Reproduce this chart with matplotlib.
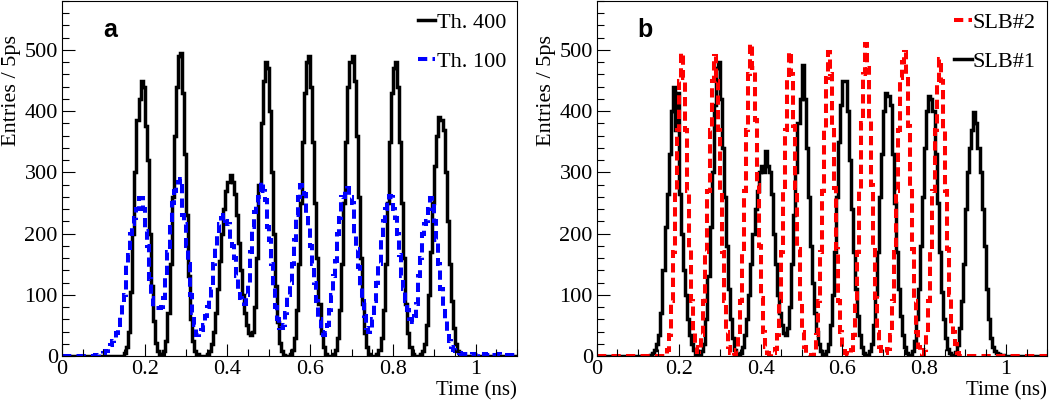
import numpy as np
import matplotlib.pyplot as plt
from matplotlib.ticker import MultipleLocator, FuncFormatter

# 5 ps bins from 0 to 1.1 ns
bin_width = 0.005
n_bins = 220

# panel a: threshold 400 (black), first bin index 30
th400_start = 30
th400_counts = [
    5, 15, 40, 105, 200, 300, 385, 420, 450, 440, 375, 320, 200, 115, 58, 22, 8, 3, 2,
    8, 25, 70, 150, 260, 360, 440, 490, 495, 430, 330, 230, 130, 60, 25, 8, 3, 0, 0, 0, 0,
    3, 8, 20, 40, 70, 110, 155, 200, 240, 270, 285, 295, 285, 265, 230, 185, 140, 100, 70, 50, 38, 35, 40,
    80, 160, 280, 380, 450, 480, 470, 400, 300, 200, 115, 55, 22, 8, 2, 0, 0,
    3, 10, 30, 75, 150, 250, 350, 430, 480, 490, 440, 350, 250, 160, 85, 38, 14, 4, 0, 0, 0,
    3, 10, 30, 75, 150, 250, 350, 440, 480, 490, 450, 360, 260, 160, 85, 38, 14, 4, 0, 0, 0,
    3, 10, 30, 75, 150, 250, 350, 430, 470, 480, 440, 350, 250, 160, 85, 38, 14, 4, 0, 0, 0,
    3, 8, 20, 50, 100, 170, 250, 310, 360, 390, 385, 370, 300, 220, 150, 90, 45, 20, 8, 3, 1,
]

# panel a: threshold 100 (blue), first bin index 16
th100_start = 16
th100_counts = [
    1, 2, 3, 3, 5, 8, 12, 18, 25, 30, 38, 50, 65, 85, 100, 150, 165, 200, 215, 225,
    240, 258, 258, 240, 205, 180, 125, 95, 80, 78, 78, 78, 80, 95, 130, 170, 210, 250, 270, 280,
    285, 290, 230, 215, 180, 150, 100, 70, 50, 35, 38, 42, 50, 65, 80, 95, 110, 150, 180, 200,
    215, 225, 230, 220, 215, 190, 180, 160, 130, 110, 95, 88, 85, 100, 120, 170, 210, 235, 250, 260,
    285, 270, 255, 210, 190, 150, 115, 80, 60, 45, 45, 50, 70, 100, 120, 150, 190, 230, 260, 280,
    275, 265, 230, 210, 180, 150, 120, 90, 60, 40, 35, 38, 50, 75, 100, 130, 155, 200, 225, 260,
    260, 270, 275, 260, 250, 200, 175, 145, 115, 90, 65, 45, 40, 45, 60, 90, 120, 150, 190, 220,
    240, 255, 262, 260, 240, 225, 200, 165, 130, 110, 90, 75, 60, 55, 65, 85, 130, 160, 200, 215,
    220, 240, 258, 250, 220, 190, 150, 110, 80, 60, 40, 25, 15, 10, 8, 6, 5, 4, 4, 3,
    3, 2, 3, 2, 2, 3, 2, 2, 3, 2, 2, 3, 2, 2, 2, 3, 2, 2, 2, 2, 2, 2, 2,
]

# panel b: SLB#2 (red), first bin index 33
slb2_start = 33
slb2_counts = [
    2, 10, 35, 90, 170, 270, 370, 450, 495, 455, 370, 270, 175, 90, 40, 15, 7,
    10, 35, 90, 170, 270, 370, 450, 490, 450, 370, 270, 170, 90, 40, 15, 5, 0,
    2, 10, 35, 90, 170, 270, 370, 460, 510, 470, 385, 280, 180, 95, 40, 15, 5, 2, 3,
    5, 12, 35, 90, 170, 270, 370, 455, 497, 460, 375, 275, 175, 90, 40, 15, 5, 2, 0,
    2, 10, 35, 90, 170, 270, 370, 455, 497, 460, 375, 275, 175, 90, 40, 15, 5, 2,
    2, 10, 35, 90, 170, 270, 380, 460, 510, 470, 385, 280, 180, 95, 40, 15, 8, 5,
    5, 12, 35, 90, 170, 270, 370, 455, 480, 497, 460, 375, 275, 175, 90, 40, 15, 5,
    4, 10, 35, 90, 170, 270, 370, 445, 485, 450, 370, 270, 175, 100, 50, 40, 20, 5,
]

# panel b: SLB#1 (black), first bin index 26
slb1_start = 26
slb1_counts = [
    2, 5, 10, 20, 35, 70, 140, 210, 265, 330, 400, 440, 370, 430, 265, 200, 140, 100, 60, 35, 20, 10, 4, 1,
    2, 8, 20, 60, 130, 210, 300, 410, 470, 480, 420, 340, 260, 180, 110, 60, 30, 10, 3, 0,
    5, 15, 35, 60, 100, 150, 200, 240, 270, 300, 310, 300, 335, 310, 300, 265, 200, 150, 100, 70, 50, 38, 35, 45, 80,
    150, 230, 300, 380, 420, 475, 420, 340, 260, 180, 120, 70, 40, 20, 8, 3, 2,
    8, 20, 50, 100, 170, 260, 350, 410, 450, 450, 400, 320, 240, 170, 110, 65, 35, 15, 5, 2, 2,
    8, 20, 50, 100, 170, 260, 330, 400, 430, 425, 410, 330, 250, 170, 110, 65, 35, 15, 5, 2, 2,
    8, 25, 60, 110, 180, 260, 340, 400, 425, 420, 400, 330, 250, 170, 105, 60, 30, 12, 5, 2, 2,
    6, 18, 45, 90, 150, 240, 300, 340, 370, 398, 380, 340, 300, 240, 180, 110, 60, 30, 15, 8, 5, 3, 2, 1,
]


def full_hist(start, counts):
    h = np.zeros(n_bins)
    h[start:start + len(counts)] = counts
    return h


edges = np.arange(n_bins + 1) * bin_width

plt.rcParams['font.family'] = 'Liberation Serif'

fig = plt.figure(figsize=(10.5, 4), dpi=100)
ax_a = fig.add_axes([62 / 1050, 44 / 400, 455 / 1050, 355 / 400])
ax_b = fig.add_axes([597 / 1050, 44 / 400, 450 / 1050, 355 / 400])

lw = 2.5
dash = (0, (2.3, 1.3))
ax_a.stairs(full_hist(th400_start, th400_counts), edges, color='black', lw=lw, label='Th. 400')
ax_a.stairs(full_hist(th100_start, th100_counts), edges, color='#0000ff', lw=lw + 0.4,
            linestyle=dash, label='Th. 100')

h1 = ax_b.stairs(full_hist(slb1_start, slb1_counts), edges, color='black', lw=lw, label='SLB#1')
h2 = ax_b.stairs(full_hist(slb2_start, slb2_counts), edges, color='#ff0000', lw=lw + 0.4,
                 linestyle=dash, label='SLB#2')

fmt = FuncFormatter(lambda v, p: '%g' % round(v, 3))
for ax, tag in [(ax_a, 'a'), (ax_b, 'b')]:
    ax.set_xlim(0, 1.1)
    ax.set_ylim(0, 580)
    ax.xaxis.set_major_locator(MultipleLocator(0.2))
    ax.xaxis.set_minor_locator(MultipleLocator(0.05))
    ax.yaxis.set_major_locator(MultipleLocator(100))
    ax.yaxis.set_minor_locator(MultipleLocator(20))
    ax.xaxis.set_major_formatter(fmt)
    ax.tick_params(which='both', direction='in', top=False, right=False, labelsize=16)
    ax.tick_params(which='major', length=9, width=0.8)
    ax.tick_params(which='minor', length=5, width=0.8)
    ax.tick_params(axis='x', pad=3)
    ax.tick_params(axis='y', pad=3)
    for s in ax.spines.values():
        s.set_linewidth(0.8)
    ax.set_xlabel('Time (ns)', fontsize=15, loc='right')
    ax.xaxis.set_label_coords(1.0, -0.071)
    ax.set_ylabel('Entries / 5ps', fontsize=16, loc='top')
    ax.yaxis.set_label_coords(-0.09, 0.905)
    ax.text(0.107, 0.918, tag, transform=ax.transAxes, fontsize=18, fontweight='bold',
            family='Liberation Sans', va='center', ha='center')

ax_a.legend(loc='upper right', frameon=False, fontsize=16, handlelength=0.8,
            handletextpad=0.05, labelspacing=0.85, borderaxespad=0.3, borderpad=0.2)
ax_b.legend(handles=[h2, h1], loc='upper right', frameon=False, fontsize=16, handlelength=0.8,
            handletextpad=0.05, labelspacing=0.85, borderaxespad=0.3, borderpad=0.2)

fig.savefig('out.png', dpi=100)
